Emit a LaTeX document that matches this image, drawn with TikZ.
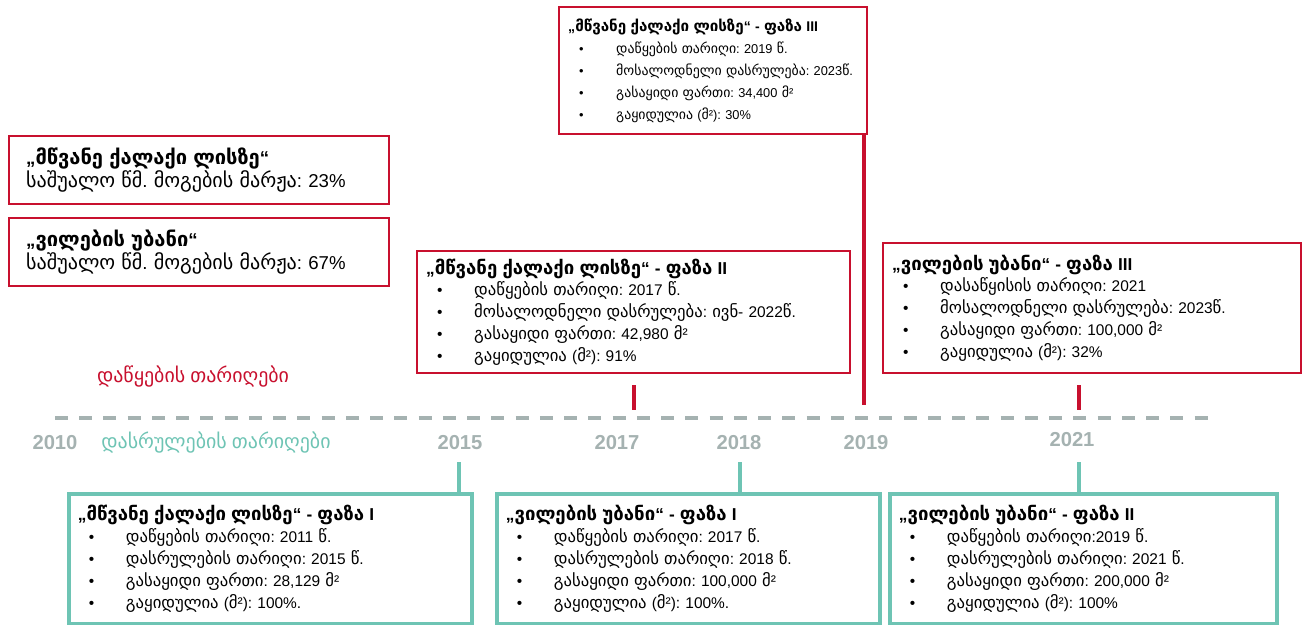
\documentclass[tikz,border=0pt]{standalone}
\usepackage{fontspec}
\setmainfont{Liberation Sans}
\newfontfamily\geofont[Scale=1.08]{DejaVu Sans}
% Georgian letters switch to a font that has them
\XeTeXinterchartokenstate=1
\newXeTeXintercharclass\geoclass
\newcount\geocount
\geocount="10A0
\loop
  \XeTeXcharclass\geocount=\geoclass
  \ifnum\geocount<"10FF \advance\geocount by 1
\repeat
\XeTeXcharclass"201C=0
\XeTeXcharclass"201D=0
\XeTeXcharclass"201E=0
\XeTeXinterchartoks 0 \geoclass = {\begingroup\geofont}
\XeTeXinterchartoks 4095 \geoclass = {\begingroup\geofont}
\XeTeXinterchartoks \geoclass 0 = {\endgroup}
\XeTeXinterchartoks \geoclass 4095 = {\endgroup}
\frenchspacing
\usetikzlibrary{positioning}
\definecolor{cityred}{RGB}{200,16,46}
\definecolor{cityteal}{RGB}{110,196,180}
\definecolor{axisgray}{RGB}{165,178,177}
\tikzset{
  infobox/.style={fill=white, align=left, inner xsep=0.18cm, inner ysep=0pt,
    anchor=north west, font=\fontsize{8.8}{12.5}\selectfont},
  redbox/.style={infobox, draw=cityred, line width=1.4pt},
  tealbox/.style={infobox, draw=cityteal, line width=2.2pt},
  marginbox/.style={infobox, draw=cityred, line width=1.4pt, inner xsep=0.34cm,
    font=\fontsize{10.6}{11.4}\selectfont},
  redstem/.style={draw=cityred, line width=1.8pt},
  tealstem/.style={draw=cityteal, line width=1.8pt},
  timeaxis/.style={draw=axisgray, line width=2.3pt, dash pattern=on 7.4pt off 6.4pt},
  yearlabel/.style={text=axisgray, font=\bfseries\fontsize{11.5}{12}\selectfont},
  serieslabel/.style={font=\fontsize{10.5}{12}\selectfont}
}
\newcommand{\itm}[1]{\hspace{0.22cm}\makebox[0.74cm][l]{•}#1}
\newcommand{\boxtitle}[1]{{\fontsize{9.8}{12.5}\selectfont\bfseries #1}}

\begin{document}
\begin{tikzpicture}[x=0.02cm, y=-0.02cm]
  \useasboundingbox (0,0) rectangle (1306,625);

  % time axis
  \coordinate (axstart) at (55,418);
  \coordinate (axend) at (1218,418);
  \draw[timeaxis] (axstart) -- (axend);

  \node[yearlabel] (y2010) at (55,443) {2010};
  \node[yearlabel] (y2015) at (460,443) {2015};
  \node[yearlabel] (y2017) at (617,443) {2017};
  \node[yearlabel] (y2018) at (739,443) {2018};
  \node[yearlabel] (y2019) at (866,443) {2019};
  \node[yearlabel] (y2021) at (1072,440) {2021};

  \node[serieslabel, text=cityred] (startlbl) at (193,377) {დაწყების თარიღები};
  \node[serieslabel, text=cityteal] (endlbl) at (216,443) {დასრულების თარიღები};

  % margins
  \node[marginbox, text width=6.92cm, minimum height=1.36cm] (gmargin) at (8,135)
    {\textbf{„მწვანე ქალაქი ლისზე“}\\საშუალო წმ. მოგების მარჟა: 23\%};
  \node[marginbox, text width=6.92cm, minimum height=1.36cm] (vmargin) at (8,217)
    {\textbf{„ვილების უბანი“}\\საშუალო წმ. მოგების მარჟა: 67\%};

  % start dates
  \node[redbox, text width=5.8cm, minimum height=2.54cm,
    font=\fontsize{7.3}{12.5}\selectfont] (green3) at (558,6)
    {{\fontsize{8}{12.5}\selectfont\bfseries „მწვანე ქალაქი ლისზე“ - ფაზა III}\\
     \itm{დაწყების თარიღი: 2019 წ.}\\
     \itm{მოსალოდნელი დასრულება: 2023წ.}\\
     \itm{გასაყიდი ფართი: 34,400 მ²}\\
     \itm{გაყიდულია (მ²): 30\%}};
  \node[redbox, text width=8.3cm, minimum height=2.44cm] (green2) at (416,250)
    {\boxtitle{„მწვანე ქალაქი ლისზე“ - ფაზა II}\\
     \itm{დაწყების თარიღი: 2017 წ.}\\
     \itm{მოსალოდნელი დასრულება: ივნ- 2022წ.}\\
     \itm{გასაყიდი ფართი: 42,980 მ²}\\
     \itm{გაყიდულია (მ²): 91\%}};
  \node[redbox, text width=8.0cm, minimum height=2.6cm] (villa3) at (882,242)
    {\boxtitle{„ვილების უბანი“ - ფაზა III}\\
     \itm{დასაწყისის თარიღი: 2021}\\
     \itm{მოსალოდნელი დასრულება: 2023წ.}\\
     \itm{გასაყიდი ფართი: 100,000 მ²}\\
     \itm{გაყიდულია (მ²): 32\%}};

  % end dates
  \node[tealbox, text width=7.7cm, minimum height=2.6cm] (green1) at (67,492)
    {\boxtitle{„მწვანე ქალაქი ლისზე“ - ფაზა I}\\
     \itm{დაწყების თარიღი: 2011 წ.}\\
     \itm{დასრულების თარიღი: 2015 წ.}\\
     \itm{გასაყიდი ფართი: 28,129 მ²}\\
     \itm{გაყიდულია (მ²): 100\%.}};
  \node[tealbox, text width=7.3cm, minimum height=2.6cm] (villa1) at (495,492)
    {\boxtitle{„ვილების უბანი“ - ფაზა I}\\
     \itm{დაწყების თარიღი: 2017 წ.}\\
     \itm{დასრულების თარიღი: 2018 წ.}\\
     \itm{გასაყიდი ფართი: 100,000 მ²}\\
     \itm{გაყიდულია (მ²): 100\%.}};
  \node[tealbox, text width=7.38cm, minimum height=2.6cm] (villa2) at (888,492)
    {\boxtitle{„ვილების უბანი“ - ფაზა II}\\
     \itm{დაწყების თარიღი:2019 წ.}\\
     \itm{დასრულების თარიღი: 2021 წ.}\\
     \itm{გასაყიდი ფართი: 200,000 მ²}\\
     \itm{გაყიდულია (მ²): 100\%}};

  % markers on the axis
  \coordinate (s2017a) at (634,385);
  \coordinate (s2017b) at (634,410);
  \coordinate (s2019) at (864,405);
  \coordinate (s2021a) at (1079,385);
  \coordinate (s2021b) at (1079,410);
  \coordinate (e2015) at (459,462);
  \coordinate (e2018) at (740,462);
  \coordinate (e2021) at (1079,462);

  \draw[redstem] (s2017a) -- (s2017b);
  \draw[redstem] (s2019 |- green3.south) -- (s2019);
  \draw[redstem] (s2021a) -- (s2021b);
  \draw[tealstem] (e2015) -- (e2015 |- green1.north);
  \draw[tealstem] (e2018) -- (e2018 |- villa1.north);
  \draw[tealstem] (e2021) -- (e2021 |- villa2.north);
\end{tikzpicture}
\end{document}
